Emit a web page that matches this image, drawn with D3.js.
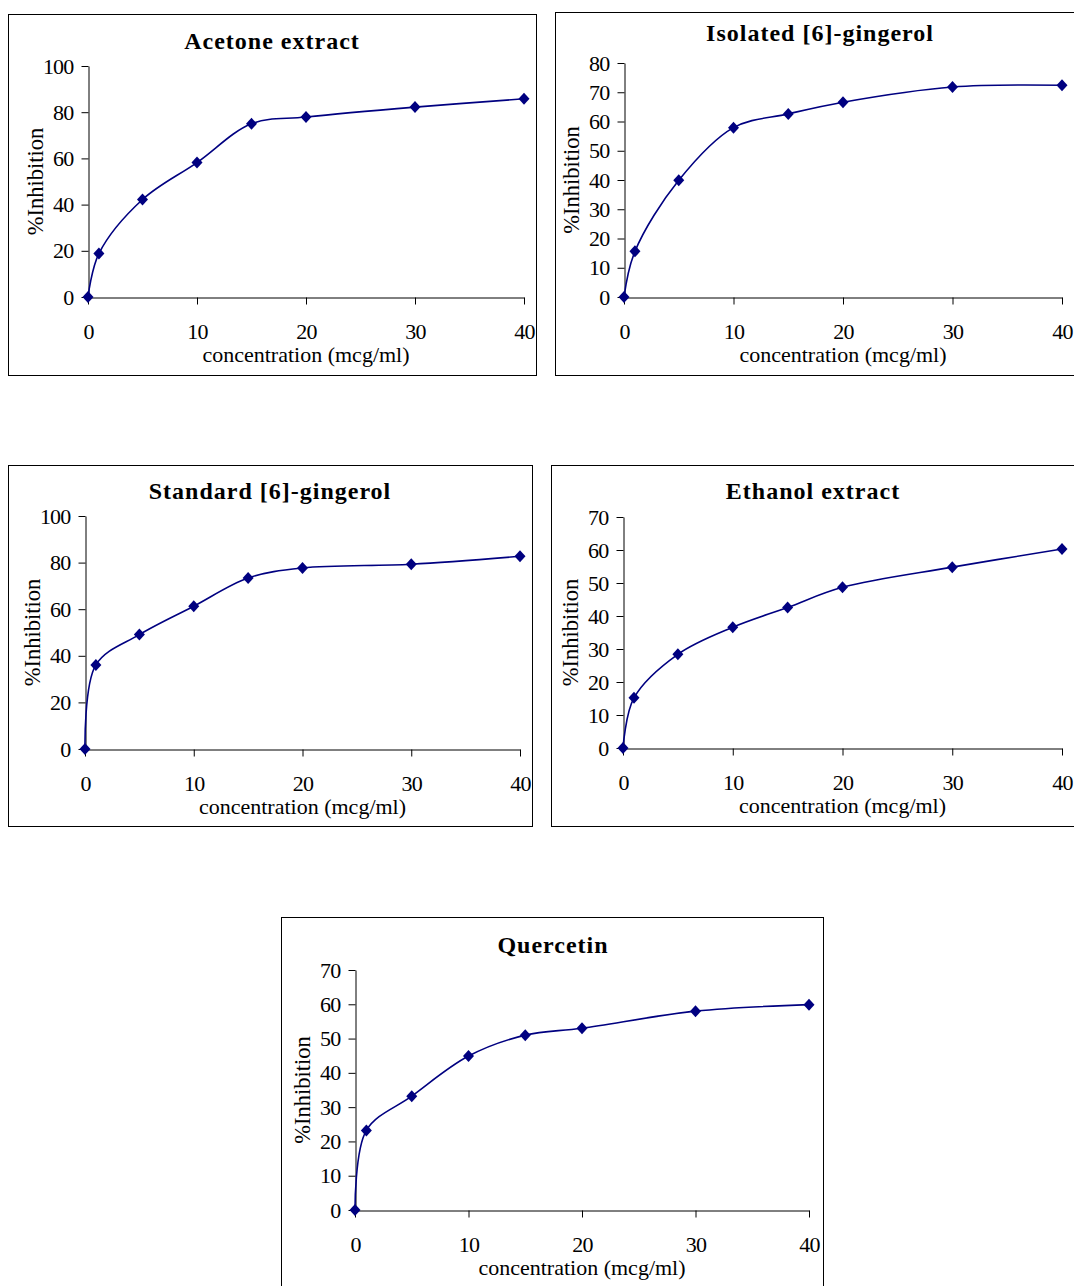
<!DOCTYPE html>
<html><head><meta charset="utf-8">
<script src="https://cdn.jsdelivr.net/npm/d3@7"></script>
<style>body{margin:0;background:#fff}svg{display:block}text{font-family:"Liberation Serif","Times New Roman",serif;fill:#000}</style>
</head><body><svg id="c" width="1074" height="1286"></svg>
<script>
const concentrations = [0, 1, 5, 10, 15, 20, 30, 40];
const acetone   = [0, 18.8, 42.2, 58.2, 75.0, 77.9, 82.2, 85.8];
const isolated  = [0, 15.6, 39.9, 57.9, 62.6, 66.6, 71.8, 72.4];
const standard  = [0, 36.1, 49.1, 61.3, 73.4, 77.7, 79.3, 82.7];
const ethanol   = [0, 15.2, 28.4, 36.6, 42.6, 48.7, 54.8, 60.3];
const quercetin = [0, 23.2, 33.2, 44.9, 51.0, 53.0, 58.0, 59.9];
const titles = ["Acetone extract", "Isolated [6]-gingerol", "Standard [6]-gingerol", "Ethanol extract", "Quercetin"];
const xTicks = [0, 10, 20, 30, 40];
const yMaxes = [100, 80, 100, 70, 70];
const yStepList = [20, 10, 20, 10, 10];
const xLabel = "concentration (mcg/ml)";
const yLabel = "%Inhibition";
const seriesList = [acetone, isolated, standard, ethanol, quercetin];

// layout (pixel positions of each panel)
const layout = [
  {frame:[8,14,536,375],  plot:[88,524,66,297],   title:[272,49]},
  {frame:[555,12,1090,375], plot:[624,1062,63,297], title:[820,41]},
  {frame:[8,465,532,826], plot:[85,520,516,749],  title:[270,499]},
  {frame:[551,465,1090,826], plot:[623,1062,517,748], title:[813,499]},
  {frame:[281,917,823,1300], plot:[355,809,970,1210], title:[553,953]}
];
const color = "#000080";
const svg = d3.select("#c");

seriesList.forEach((vals, i) => {
  const L = layout[i];
  const g = svg.append("g");
  g.append("rect").attr("x", L.frame[0]+0.5).attr("y", L.frame[1]+0.5)
    .attr("width", L.frame[2]-L.frame[0]).attr("height", L.frame[3]-L.frame[1])
    .attr("fill", "none").attr("stroke", "#000").attr("stroke-width", 1);
  const x = d3.scaleLinear().domain([0, 40]).range([L.plot[0], L.plot[1]]);
  const y = d3.scaleLinear().domain([0, yMaxes[i]]).range([L.plot[3], L.plot[2]]);
  const yt = d3.range(0, yMaxes[i] + 0.001, yStepList[i]);

  const xa = g.append("g").attr("transform", `translate(0,${L.plot[3]+0.5})`)
    .call(d3.axisBottom(x).tickValues(xTicks).tickSize(7).tickSizeOuter(0).tickPadding(19));
  const ya = g.append("g").attr("transform", `translate(${L.plot[0]+0.5},0)`)
    .call(d3.axisLeft(y).tickValues(yt).tickSize(7).tickSizeOuter(0).tickPadding(8));
  [xa, ya].forEach(a => {
    a.selectAll("path,line").attr("stroke", "#000").attr("stroke-width", 1);
    a.selectAll("text").style("font-family", '"Liberation Serif",serif').style("font-size", "22px")
      .style("letter-spacing", "-0.8px").attr("fill", "#000");
  });

  g.append("text").attr("x", L.title[0]).attr("y", L.title[1]).attr("text-anchor", "middle")
    .style("font-size", "24px").style("font-weight", "bold")
    .style("letter-spacing", "1px").text(titles[i]);
  g.append("text").attr("x", (L.plot[0]+L.plot[1])/2).attr("y", L.plot[3] + 65)
    .attr("text-anchor", "middle").style("font-size", "22px").text(xLabel);
  g.append("text").attr("transform", `translate(${L.plot[0]-45},${(L.plot[2]+L.plot[3])/2}) rotate(-90)`)
    .attr("text-anchor", "middle").style("font-size", "22.5px").text(yLabel);

  const pts = concentrations.map((c, k) => [c, vals[k]]);
  const line = d3.line().x(d => x(d[0])).y(d => y(d[1])).curve(d3.curveCatmullRom.alpha(0.5));
  g.append("path").attr("d", line(pts)).attr("fill", "none").attr("stroke", color).attr("stroke-width", 1.6);
  g.selectAll(".m").data(pts).enter().append("path")
    .attr("transform", d => `translate(${x(d[0])},${y(d[1])})`)
    .attr("d", "M0,-6L5.5,0L0,6L-5.5,0Z").attr("fill", color);
});
</script></body></html>
